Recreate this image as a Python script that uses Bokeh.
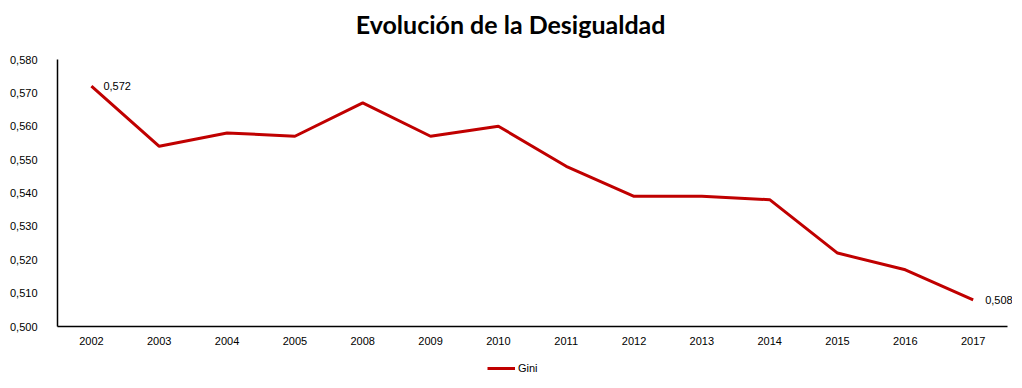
from bokeh.plotting import figure
from bokeh.layouts import column
from bokeh.models import (ColumnDataSource, Range1d, CustomJSTickFormatter, FixedTicker,
                          Legend, LegendItem, LabelSet, Label)
from bokeh.core.properties import value
from bokeh.embed import file_html
from bokeh.resources import INLINE

title_text = "Evolución de la Desigualdad"
years = ["2002", "2003", "2004", "2005", "2008", "2009", "2010", "2011",
         "2012", "2013", "2014", "2015", "2016", "2017"]
gini = [0.572, 0.554, 0.558, 0.557, 0.567, 0.557, 0.560, 0.548,
        0.539, 0.539, 0.538, 0.522, 0.517, 0.508]
y_ticks = [0.50, 0.51, 0.52, 0.53, 0.54, 0.55, 0.56, 0.57, 0.58]
series_name = "Gini"
line_color = "#C00000"

W = 1012
idx = list(range(len(years)))
src = ColumnDataSource(dict(x=idx, y=gini))
xr = Range1d(-0.5, len(years) - 0.42)

# ---- header with the title (frames of a column are aligned, so share the x range)
hd = figure(width=W, height=49, output_backend="svg", toolbar_location=None,
            x_axis_type=None, y_axis_type=None,
            min_border_left=57, min_border_right=0, min_border_top=0, min_border_bottom=0,
            x_range=xr, y_range=Range1d(0, 49))
hd.outline_line_color = None
hd.grid.visible = False
hd.add_layout(Label(x=6.18, y=26, text=title_text, text_align="center",
                    text_baseline="alphabetic", text_font="Lato", text_font_style="bold",
                    text_font_size="25px", text_color="#000000"))

# ---- main chart
p = figure(width=W, height=299, output_backend="svg", toolbar_location=None,
           x_range=xr, y_range=Range1d(0.5, 0.58),
           min_border_left=57, min_border_right=0, min_border_top=10, min_border_bottom=22)
p.outline_line_color = None
p.xgrid.visible = False
p.ygrid.visible = False

p.line("x", "y", source=src, line_color=line_color, line_width=3)

lbl_src = ColumnDataSource(dict(x=[idx[0], idx[-1]], y=[gini[0], gini[-1]],
                                t=[f"{gini[0]:.3f}".replace(".", ","), f"{gini[-1]:.3f}".replace(".", ",")]))
labels = LabelSet(x="x", y="y", text="t", source=lbl_src, x_offset=12, y_offset=0,
                  text_baseline="middle", text_font=value("Liberation Sans"),
                  text_font_size=value("11px"), text_color="#000000")
p.add_layout(labels)

p.xaxis.ticker = FixedTicker(ticks=idx)
p.xaxis.major_label_overrides = {i: y for i, y in zip(idx, years)}
p.xaxis.bounds = (-0.5, len(years) - 0.5)
p.yaxis.ticker = y_ticks
p.yaxis.formatter = CustomJSTickFormatter(code="return tick.toFixed(3).replace('.', ',');")
for ax in (p.xaxis[0], p.yaxis[0]):
    ax.major_tick_line_color = None
    ax.minor_tick_line_color = None
    ax.major_tick_out = 0
    ax.major_tick_in = 0
    ax.minor_tick_out = 0
    ax.minor_tick_in = 0
    ax.axis_line_color = "#000000"
    ax.axis_line_width = 1.5
    ax.major_label_text_font = "Liberation Sans"
    ax.major_label_text_font_size = "11px"
    ax.major_label_text_color = "#000000"
p.yaxis.major_label_standoff = 20
p.xaxis.major_label_standoff = 10

# ---- legend strip below the chart
lg = figure(width=W, height=30, output_backend="svg", toolbar_location=None,
            x_axis_type=None, y_axis_type=None,
            min_border_left=57, min_border_right=0, min_border_top=0, min_border_bottom=0,
            x_range=xr, y_range=Range1d(10, 11))
lg.outline_line_color = None
lg.grid.visible = False
lg_line = lg.line("x", "y", source=src, line_color=line_color, line_width=3)
legend = Legend(items=[LegendItem(label=series_name, renderers=[lg_line])],
                location=(430, 4), orientation="horizontal",
                label_text_font="Liberation Sans", label_text_font_size="11px",
                label_text_color="#000000",
                glyph_width=28, glyph_height=12, label_standoff=3, border_line_color=None,
                background_fill_alpha=0,
                padding=0, margin=0, spacing=0)
lg.add_layout(legend, "center")

layout = column(hd, p, lg, spacing=0)
open("out.html", "w").write(file_html(layout, INLINE))
